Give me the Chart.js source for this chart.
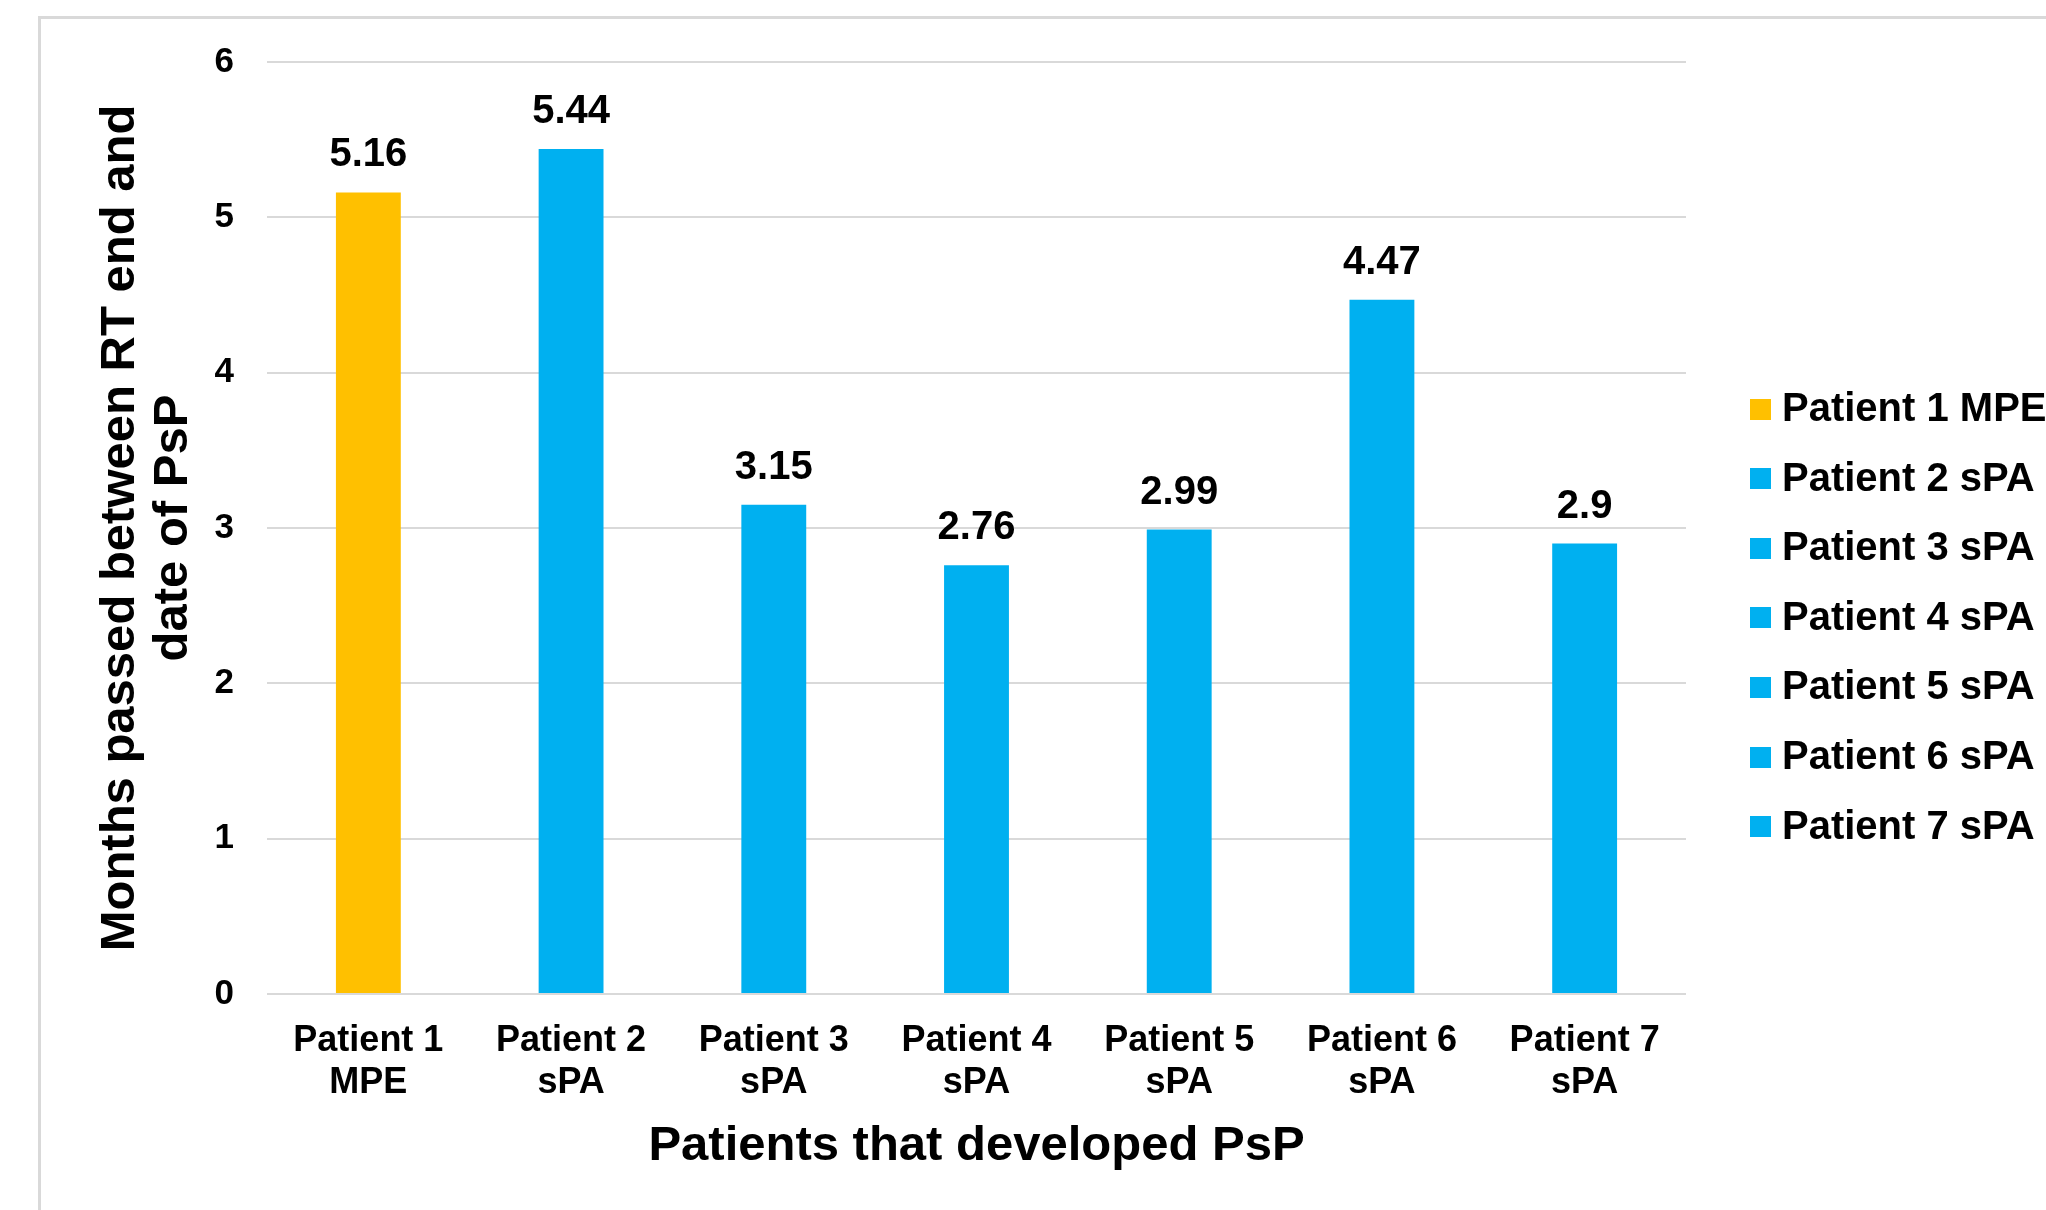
<!DOCTYPE html>
<html>
<head>
<meta charset="utf-8">
<title>Months passed between RT end and date of PsP</title>
<script src="https://cdn.jsdelivr.net/npm/chart.js@4.4.1/dist/chart.umd.min.js"></script>
<style>
  html, body { margin: 0; padding: 0; background: #ffffff; overflow: hidden; }
  #wrap { width: 2046px; height: 1210px; position: relative; }
  canvas { display: block; }
</style>
</head>
<body>
<div id="wrap"><canvas id="chart" width="2046" height="1210"></canvas></div>
<script>
// Category labels (two lines each) and the matching legend entries
const categories = [
  ['Patient 1', 'MPE'],
  ['Patient 2', 'sPA'],
  ['Patient 3', 'sPA'],
  ['Patient 4', 'sPA'],
  ['Patient 5', 'sPA'],
  ['Patient 6', 'sPA'],
  ['Patient 7', 'sPA']
];
const legendLabels = [
  'Patient 1 MPE',
  'Patient 2 sPA',
  'Patient 3 sPA',
  'Patient 4 sPA',
  'Patient 5 sPA',
  'Patient 6 sPA',
  'Patient 7 sPA'
];
// Months between end of radiotherapy and pseudoprogression
const months = [5.16, 5.44, 3.15, 2.76, 2.99, 4.47, 2.9];
const barColors = ['#FFC000', '#00B0F0', '#00B0F0', '#00B0F0', '#00B0F0', '#00B0F0', '#00B0F0'];
const yTitle = ['Months passed between RT end and', 'date of PsP'];
const xTitle = 'Patients that developed PsP';

const FONT = '"Liberation Sans", Arial, Helvetica, sans-serif';

// Light grey frame around the figure
const framePlugin = {
  id: 'frame',
  beforeDraw(chart) {
    const ctx = chart.ctx;
    ctx.save();
    ctx.fillStyle = '#ffffff';
    ctx.fillRect(0, 0, chart.width, chart.height);
    ctx.strokeStyle = '#d9d9d9';
    ctx.lineWidth = 3;
    ctx.beginPath();
    ctx.moveTo(39.5, chart.height + 5);
    ctx.lineTo(39.5, 17.5);
    ctx.lineTo(chart.width + 5, 17.5);
    ctx.stroke();
    ctx.restore();
  }
};

// Value labels above each bar
const valueLabelPlugin = {
  id: 'valueLabels',
  afterDatasetsDraw(chart) {
    const ctx = chart.ctx;
    const meta = chart.getDatasetMeta(0);
    const values = chart.data.datasets[0].data;
    ctx.save();
    ctx.font = 'bold 40px ' + FONT;
    ctx.fillStyle = '#000000';
    ctx.textAlign = 'center';
    ctx.textBaseline = 'alphabetic';
    meta.data.forEach((bar, i) => {
      ctx.fillText(String(values[i]), bar.x, bar.y - 26);
    });
    ctx.restore();
  }
};

// Legend listing each patient with its bar colour
const sideLegendPlugin = {
  id: 'sideLegend',
  afterDraw(chart) {
    const ctx = chart.ctx;
    const colors = chart.data.datasets[0].backgroundColor;
    const x0 = 1750, box = 21, gap = 11, y0 = 409, step = 69.6;
    ctx.save();
    ctx.font = 'bold 40px ' + FONT;
    ctx.textAlign = 'left';
    ctx.textBaseline = 'middle';
    legendLabels.forEach((txt, i) => {
      const cy = y0 + step * i;
      ctx.fillStyle = colors[i];
      ctx.fillRect(x0, Math.round(cy - box / 2), box, box);
      ctx.fillStyle = '#000000';
      ctx.fillText(txt, x0 + box + gap, cy + 1);
    });
    ctx.restore();
  }
};

new Chart(document.getElementById('chart'), {
  type: 'bar',
  data: {
    labels: categories,
    datasets: [{
      label: 'Months',
      data: months,
      backgroundColor: barColors,
      borderWidth: 0,
      barPercentage: 0.32,
      categoryPercentage: 1.0
    }]
  },
  options: {
    responsive: false,
    animation: false,
    devicePixelRatio: 1,
    layout: { padding: { left: 60, top: 62, right: 360, bottom: 20 } },
    plugins: {
      legend: { display: false },
      tooltip: { enabled: false },
      title: { display: false }
    },
    scales: {
      x: {
        offset: true,
        afterFit(scale) { scale.height = 196; },
        grid: { display: false, drawTicks: false },
        border: { display: false },
        ticks: {
          color: '#000000',
          padding: 26,
          maxRotation: 0,
          autoSkip: false,
          font: { family: FONT, size: 36, weight: 'bold', lineHeight: 1.17 }
        },
        title: {
          display: true,
          text: xTitle,
          color: '#000000',
          padding: { top: 11.6, bottom: 14.6 },
          font: { family: FONT, size: 49, weight: 'bold', lineHeight: 1.2 }
        }
      },
      y: {
        min: 0,
        max: 6,
        afterFit(scale) { scale.width = 207; },
        grid: { color: '#d9d9d9', lineWidth: 2, drawTicks: false },
        border: { display: false },
        ticks: {
          stepSize: 1,
          color: '#000000',
          padding: 33,
          font: { family: FONT, size: 35, weight: 'bold' }
        },
        title: {
          display: true,
          text: yTitle,
          color: '#000000',
          padding: { top: 34.5, bottom: 14 },
          font: { family: FONT, size: 49, weight: 'bold', lineHeight: 1.08 }
        }
      }
    }
  },
  plugins: [framePlugin, valueLabelPlugin, sideLegendPlugin]
});
</script>
</body>
</html>
